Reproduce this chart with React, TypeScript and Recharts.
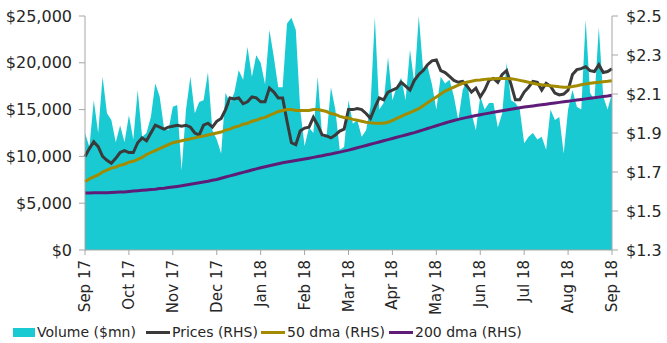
import React from 'react';
import { ComposedChart, Area, Line, XAxis, YAxis } from 'recharts';

const MONTHS = ['Sep 17', 'Oct 17', 'Nov 17', 'Dec 17', 'Jan 18', 'Feb 18', 'Mar 18', 'Apr 18', 'May 18', 'Jun 18', 'Jul 18', 'Aug 18', 'Sep 18'];

// daily-ish samples, 10 per month ($mn)
const VOLUME = [
    12500, 11000, 16000, 12500, 18500, 14600, 13900, 11500, 13300, 11500,
    14400, 11800, 17100, 12100, 12500, 14200, 17800, 16400, 13000, 12800,
    15300, 15500, 8500, 15000, 18500, 14600, 15800, 16000, 19000, 12800,
    11800, 10300, 16800, 15700, 16800, 19200, 18200, 21700, 18500, 20800,
    20000, 17700, 23500, 20600, 17400, 17400, 24200, 24800, 23500, 15000,
    11100, 13100, 12500, 18500, 12100, 12100, 17400, 15000, 10700, 11000,
    16000, 13500, 13900, 12100, 12800, 15300, 24900, 15000, 15700, 20600,
    16000, 17500, 18400, 16000, 21400, 17800, 25000, 19200, 19600, 17700,
    15000, 18500, 17800, 18200, 16400, 13900, 17100, 18200, 14600, 12800,
    16400, 15000, 15700, 15700, 13100, 14600, 20000, 16000, 15700, 15000,
    11400, 12100, 12500, 11800, 12100, 10700, 15000, 13900, 14200, 10300,
    15000, 17100, 15300, 15000, 24600, 16800, 16000, 23800, 16400, 15000,
    16800,
];

const PRICES = [
    1.78, 1.82, 1.855, 1.83, 1.78, 1.76, 1.745, 1.77, 1.80, 1.81,
    1.80, 1.80, 1.85, 1.875, 1.86, 1.90, 1.94, 1.93, 1.92, 1.93,
    1.935, 1.94, 1.935, 1.94, 1.93, 1.90, 1.89, 1.94, 1.95, 1.93,
    1.96, 1.975, 2.02, 2.08, 2.075, 2.08, 2.05, 2.06, 2.085, 2.08,
    2.06, 2.06, 2.13, 2.11, 2.08, 2.08, 1.96, 1.85, 1.84, 1.91,
    1.925, 1.93, 1.98, 1.94, 1.89, 1.885, 1.875, 1.89, 1.91, 1.92,
    2.02, 2.02, 2.025, 2.02, 2.0, 1.975, 2.03, 2.08, 2.07, 2.11,
    2.12, 2.13, 2.16, 2.14, 2.12, 2.17, 2.2, 2.22, 2.25, 2.27,
    2.275, 2.22, 2.21, 2.19, 2.17, 2.16, 2.165, 2.14, 2.11, 2.13,
    2.085, 2.12, 2.17, 2.18, 2.16, 2.2, 2.22, 2.15, 2.07, 2.07,
    2.11, 2.135, 2.165, 2.16, 2.12, 2.155, 2.14, 2.105, 2.095, 2.1,
    2.12, 2.2, 2.225, 2.23, 2.24, 2.22, 2.215, 2.25, 2.21, 2.215,
    2.23,
];

const DMA_50 = [
    1.65, 1.665, 1.675, 1.685, 1.70, 1.71, 1.72, 1.725, 1.735, 1.74,
    1.75, 1.755, 1.765, 1.775, 1.79, 1.80, 1.81, 1.82, 1.83, 1.84,
    1.85, 1.855, 1.86, 1.865, 1.87, 1.875, 1.88, 1.885, 1.89, 1.895,
    1.90, 1.905, 1.915, 1.92, 1.93, 1.935, 1.945, 1.95, 1.96, 1.965,
    1.975, 1.98, 1.99, 2.0, 2.01, 2.015, 2.02, 2.02, 2.015, 2.015,
    2.015, 2.015, 2.02, 2.02, 2.015, 2.01, 2.0, 1.995, 1.985, 1.98,
    1.977, 1.97, 1.965, 1.96, 1.955, 1.952, 1.95, 1.95, 1.95, 1.955,
    1.965, 1.975, 1.985, 1.995, 2.005, 2.015, 2.025, 2.04, 2.055, 2.07,
    2.085, 2.10, 2.115, 2.125, 2.135, 2.145, 2.155, 2.16, 2.165, 2.17,
    2.172, 2.175, 2.177, 2.178, 2.18, 2.18, 2.18, 2.178, 2.175, 2.17,
    2.165, 2.16, 2.155, 2.15, 2.147, 2.145, 2.142, 2.14, 2.137, 2.135,
    2.135, 2.138, 2.142, 2.147, 2.152, 2.155, 2.158, 2.16, 2.163, 2.165,
    2.168,
];

const DMA_200 = [
    1.592, 1.592, 1.593, 1.593, 1.594, 1.594, 1.595, 1.596, 1.597, 1.598,
    1.600, 1.602, 1.604, 1.606, 1.608, 1.610, 1.612, 1.615, 1.617, 1.620,
    1.623, 1.626, 1.629, 1.633, 1.637, 1.641, 1.645, 1.649, 1.653, 1.658,
    1.662, 1.668, 1.674, 1.680, 1.686, 1.692, 1.698, 1.704, 1.710, 1.716,
    1.722, 1.727, 1.732, 1.737, 1.742, 1.747, 1.751, 1.755, 1.759, 1.763,
    1.767, 1.771, 1.775, 1.779, 1.783, 1.788, 1.792, 1.797, 1.802, 1.807,
    1.812, 1.818, 1.824, 1.830, 1.836, 1.842, 1.848, 1.854, 1.860, 1.866,
    1.872, 1.878, 1.884, 1.890, 1.896, 1.902, 1.909, 1.916, 1.923, 1.930,
    1.937, 1.944, 1.951, 1.958, 1.964, 1.970, 1.975, 1.980, 1.985, 1.990,
    1.994, 1.998, 2.002, 2.006, 2.010, 2.014, 2.018, 2.022, 2.026, 2.030,
    2.033, 2.036, 2.039, 2.042, 2.045, 2.048, 2.051, 2.054, 2.057, 2.060,
    2.063, 2.066, 2.069, 2.072, 2.075, 2.078, 2.081, 2.084, 2.087, 2.090,
    2.094,
];

const LEFT_TICKS = [0, 5000, 10000, 15000, 20000, 25000];
const RIGHT_TICKS = [1.3, 1.5, 1.7, 1.9, 2.1, 2.3, 2.5];
const MONTH_TICKS = MONTHS.map((_, k) => k * 10);

const data = VOLUME.map((v, i) => ({
    i,
    volume: v,
    price: PRICES[i],
    dma50: DMA_50[i],
    dma200: DMA_200[i],
}));

const FONT = '"DejaVu Sans", sans-serif';
const TEXT = '#262626';
const AXIS = '#A6A6A6';

const COLORS = {
    volume: '#1ACAD3',
    price: '#3A3A3A',
    dma50: '#A38B00',
    dma200: '#5E1C78',
};

const MonthTick = ({ x, y, payload }: any) => (
    <text
        x={0}
        y={0}
        transform={`translate(${x},${y + 3}) rotate(-90)`}
        textAnchor="end"
        dominantBaseline="central"
        fill={TEXT}
        fontSize={15}
        fontFamily={FONT}
    >
        {MONTHS[Math.round(payload.value / 10)]}
    </text>
);

const LEGEND = [
    { label: 'Volume ($mn)', color: COLORS.volume, box: true, left: 13 },
    { label: 'Prices (RHS)', color: COLORS.price, box: false, left: 146 },
    { label: '50 dma (RHS)', color: COLORS.dma50, box: false, left: 261 },
    { label: '200 dma (RHS)', color: COLORS.dma200, box: false, left: 389 },
];

export default function App() {
    return (
        <div style={{ position: 'absolute', top: 0, left: 0, width: 667, height: 343, background: '#fff', fontFamily: FONT }}>
            <ComposedChart width={667} height={320} data={data} margin={{ top: 16, right: 0, bottom: 0, left: 0 }}>
                <XAxis
                    dataKey="i"
                    type="number"
                    domain={[0, 120]}
                    ticks={MONTH_TICKS}
                    interval={0}
                    height={70}
                    tick={<MonthTick />}
                    stroke={AXIS}
                    tickSize={5}
                />
                <YAxis
                    yAxisId="left"
                    domain={[0, 25000]}
                    ticks={LEFT_TICKS}
                    width={85}
                    stroke={AXIS}
                    tickSize={6}
                    tickMargin={7}
                    tick={{ fill: TEXT, fontSize: 16, fontFamily: FONT }}
                    tickFormatter={(v: number) => `$${v.toLocaleString('en-US')}`}
                    allowDataOverflow
                />
                <YAxis
                    yAxisId="right"
                    orientation="right"
                    domain={[1.3, 2.5]}
                    ticks={RIGHT_TICKS}
                    width={55}
                    stroke={AXIS}
                    tickSize={6}
                    tickMargin={8}
                    tick={{ fill: TEXT, fontSize: 16, fontFamily: FONT }}
                    tickFormatter={(v: number) => `$${v.toFixed(1)}`}
                    allowDataOverflow
                />
                <Area yAxisId="left" type="linear" dataKey="volume" fill={COLORS.volume} fillOpacity={1} stroke="none" isAnimationActive={false} />
                <Line yAxisId="right" type="linear" dataKey="price" stroke={COLORS.price} strokeWidth={3} dot={false} isAnimationActive={false} />
                <Line yAxisId="right" type="linear" dataKey="dma50" stroke={COLORS.dma50} strokeWidth={3} dot={false} isAnimationActive={false} />
                <Line yAxisId="right" type="linear" dataKey="dma200" stroke={COLORS.dma200} strokeWidth={3} dot={false} isAnimationActive={false} />
            </ComposedChart>
            {LEGEND.map(item => (
                <div
                    key={item.label}
                    style={{ position: 'absolute', top: 322, left: item.left, display: 'flex', alignItems: 'center', height: 20, fontSize: 14, color: TEXT, whiteSpace: 'nowrap' }}
                >
                    <span
                        style={{
                            display: 'inline-block',
                            width: item.box ? 22 : 24,
                            height: item.box ? 9 : 3,
                            background: item.color,
                            marginRight: 2,
                        }}
                    />
                    <span>{item.label}</span>
                </div>
            ))}
        </div>
    );
}
